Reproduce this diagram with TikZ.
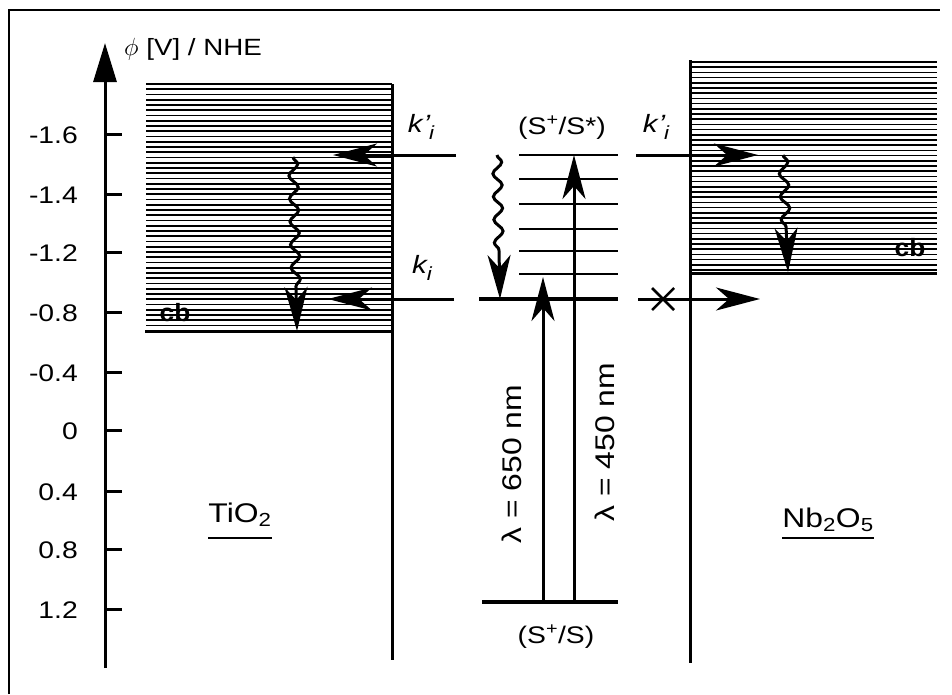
\documentclass[tikz,border=0pt]{standalone}
\usepackage{fontspec}
\setmainfont{Liberation Sans}[FakeStretch=1.18]
\newfontfamily\cbfont{Liberation Sans Bold}[FakeStretch=1.05]
\usetikzlibrary{arrows.meta,decorations.pathmorphing,calc}
\begin{document}
\begin{tikzpicture}[x=1pt,y=-1pt,
  frame/.style={line width=1.8pt},
  axisline/.style={line width=3pt},
  edge/.style={line width=3pt},
  hatchline/.style={line width=1.7pt},
  lvl/.style={line width=2.4pt},
  thicklvl/.style={line width=4.5pt},
  tip/.style={-{Stealth[length=44pt,width=23pt,inset=13pt]}},
  arr/.style={line width=3pt,tip},
  wavy/.style={line width=3pt,tip,decorate,decoration={snake,segment length=23pt,amplitude=4.5pt,post length=40pt}},
  lab/.style={inner sep=0pt,font=\fontsize{24}{24}\selectfont},
  klab/.style={inner sep=0pt,font=\fontsize{25}{25}\selectfont\itshape},
  big/.style={inner sep=0pt,font=\fontsize{27}{27}\selectfont},
  cblab/.style={inner sep=0pt,font=\fontsize{25}{25}\cbfont}
]
\useasboundingbox (0,0) rectangle (952,694);
% frame
\coordinate (fbl) at (9,694); \coordinate (ftl) at (9,10); \coordinate (ftr) at (940,10);
\draw[frame] (fbl) -- (ftl) -- (ftr);

% hatching
\foreach \i in {0,...,46} {\draw[hatchline] (146,84+\i*5.25) -- (392,84+\i*5.25);}
\foreach \i in {0,...,40} {\draw[hatchline] (690,62+\i*5.2) -- (937,62+\i*5.2);}

% axis
\coordinate (axb) at (105,668); \coordinate (axt) at (105,43);
\draw[axisline,-{Triangle[length=39pt,width=23pt]}] (axb) -- (axt);
\node[anchor=west,inner sep=0pt,font=\fontsize{23.5}{23.5}\selectfont] (title) at (124,49) {{\fontsize{29}{29}\selectfont$\phi$} [V] / NHE};
\foreach \v/\y [count=\n] in {-1.6/134,-1.4/194,-1.2/252,-0.8/312,-0.4/372,0/430,0.4/491,0.8/549,1.2/609} {
  \coordinate (tk\n) at (105,\y); \coordinate (te\n) at (122,\y);
  \draw[axisline] (tk\n) -- (te\n);
  \node[lab,anchor=east] (tl\n) at (78,\y+1) {\v};
}

% TiO2
\coordinate (tbl) at (145,331); \coordinate (tbr) at (392,331);
\coordinate (ttop) at (392,84); \coordinate (tbot) at (392,660);
\draw[edge] (ttop) -- (tbot);
\draw[edge] (tbl) -- (tbr);
\node[cblab] (cb1) at (175,313) {cb};

% Nb2O5
\coordinate (ntop) at (690,60); \coordinate (nbot) at (690,663);
\coordinate (nbl) at (690,273); \coordinate (nbr) at (937,273);
\draw[edge] (ntop) -- (nbot);
\draw[edge] (nbl) -- (nbr);
\node[cblab] (cb2) at (910,248) {cb};

% dye levels
\foreach \y [count=\n] in {155,179,204,229,251,274} {
  \coordinate (la\n) at (519,\y); \coordinate (lb\n) at (618,\y);
  \draw[lvl] (la\n) -- (lb\n);
}
\coordinate (ga) at (479,299); \coordinate (gb) at (618,299);
\draw[thicklvl] (ga) -- (gb);
\coordinate (sa) at (482,602); \coordinate (sb) at (618,602);
\draw[thicklvl] (sa) -- (sb);
\node[inner sep=0pt,font=\fontsize{24}{24}\selectfont] (exc) at (562,128) {(S\textsuperscript{+}/S*)};
\node[inner sep=0pt,font=\fontsize{24}{24}\selectfont] (gnd) at (556,637) {(S\textsuperscript{+}/S)};

% excitation
\coordinate (u1b) at (543,602); \coordinate (u1t) at (543,277);
\coordinate (u2b) at (574,602); \coordinate (u2t) at (574,155);
\draw[arr] (u1b) -- (u1t);
\draw[arr] (u2b) -- (u2t);
\node[big,rotate=90] (l650) at (512,464) {λ = 650 nm};
\node[big,rotate=90] (l450) at (605,442) {λ = 450 nm};

% relaxation
\coordinate (w1a) at (497,155); \coordinate (w1b) at (500,299);
\draw[wavy] (w1a) -- (w1b);
\coordinate (w2a) at (293,157); \coordinate (w2b) at (297,331);
\draw[wavy] (w2a) -- (w2b);
\coordinate (w3a) at (783,155); \coordinate (w3b) at (788,272);
\draw[wavy] (w3a) -- (w3b);

% injection to TiO2
\coordinate (i1a) at (456,155); \coordinate (i1b) at (333,155);
\draw[arr] (i1a) -- (i1b);
\coordinate (i2a) at (454,299); \coordinate (i2b) at (328,299);
\draw[arr] (i2a) -- (i2b);
\node[klab] (kp1) at (421,127) {k\kern1pt'\kern-1pt\raisebox{-0.3em}{\fontsize{19}{19}\selectfont i}};
\node[klab] (k1) at (422,268) {k\raisebox{-0.3em}{\fontsize{19}{19}\selectfont i}};

% injection to Nb2O5
\coordinate (i3a) at (636,155); \coordinate (i3b) at (758,155);
\draw[arr] (i3a) -- (i3b);
\coordinate (i4a) at (638,299); \coordinate (i4b) at (760,299);
\draw[arr] (i4a) -- (i4b);
\node[klab] (kp2) at (656,127) {k\kern1pt'\kern-1pt\raisebox{-0.3em}{\fontsize{19}{19}\selectfont i}};
\coordinate (xa) at (652,288); \coordinate (xb) at (674,310);
\coordinate (xc) at (652,310); \coordinate (xd) at (674,288);
\draw[line width=2.5pt] (xa) -- (xb) (xc) -- (xd);

% material labels
\node[big,anchor=base] (tio) at (240,522) {TiO\textsubscript{2}};
\draw[line width=2pt] ($(tio.west)+(0,23)$) -- ($(tio.east)+(0,23)$);
\node[big,anchor=base] (nbo) at (828,527) {Nb\textsubscript{2}O\textsubscript{5}};
\draw[line width=2pt] ($(nbo.west)+(0,18)$) -- ($(nbo.east)+(0,18)$);
\end{tikzpicture}
\end{document}
